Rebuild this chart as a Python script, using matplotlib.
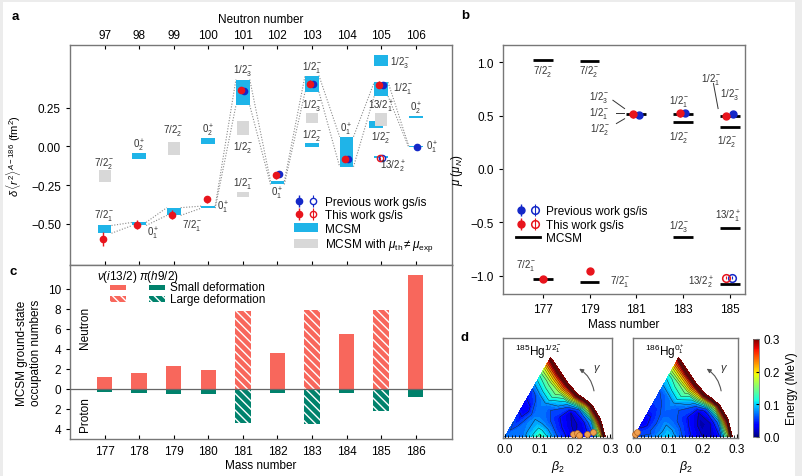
import numpy as np
import matplotlib
matplotlib.use("Agg")
import matplotlib.pyplot as plt
from matplotlib.patches import Rectangle, FancyArrowPatch
from matplotlib.legend_handler import HandlerTuple
from matplotlib.lines import Line2D

plt.rcParams['font.family'] = ['Liberation Sans', 'DejaVu Sans']
plt.rcParams['mathtext.fontset'] = 'custom'
plt.rcParams['mathtext.rm'] = 'Liberation Sans'
plt.rcParams['mathtext.it'] = 'Liberation Sans:italic'
plt.rcParams['mathtext.bf'] = 'Liberation Sans:bold'
plt.rcParams['font.size'] = 8
plt.rcParams['axes.edgecolor'] = '#777777'
plt.rcParams['axes.linewidth'] = 1.0
plt.rcParams['hatch.linewidth'] = 1.0

BLUE_BOX = '#1fb4e8'
GRAY_BOX = '#d8d8d8'
RED = '#e8141c'
DBLUE = '#1428c8'
SALMON = '#f8675c'
TEAL = '#00826c'

# ---------------- panel a : charge radii ----------------
neutrons = [97, 98, 99, 100, 101, 102, 103, 104, 105, 106]

# MCSM blue boxes: neutron number, lower, upper
mcsm_N = [97, 98, 98, 99, 100, 100, 101, 102, 103, 103, 104, 105, 105, 105, 105, 106, 106]
mcsm_lo = [-0.56, -0.08, -0.51, -0.445, 0.013, -0.398, 0.265, -0.245, 0.353, -0.002,
           -0.131, 0.518, 0.325, 0.120, -0.073, 0.187, -0.006]
mcsm_hi = [-0.51, -0.04, -0.49, -0.395, 0.052, -0.385, 0.432, -0.224, 0.458, 0.024,
           0.063, 0.592, 0.415, 0.163, -0.063, 0.195, 0.002]
mcsm_shift = [0, 0, 0, 0, 0, 0, 0, 0, 0, 0, 0, 0, 0, -0.15, 0, 0, 0]

# MCSM states with mu_th != mu_exp (gray)
gray_N = [97, 99, 101, 101, 103, 105]
gray_lo = [-0.23, -0.052, 0.077, -0.323, 0.153, 0.131]
gray_hi = [-0.153, 0.028, 0.163, -0.297, 0.217, 0.213]

# ground-state boxes joined by dotted lines (index into mcsm lists)
chain = [0, 2, 3, 5, 6, 7, 8, 10, 12, 16]

# experimental values
this_N = [97, 98, 99, 100, 101, 102, 103, 104, 105]
this_r = [-0.600, -0.505, -0.440, -0.342, 0.363, -0.187, 0.406, -0.084, 0.400]
this_err = [0.045, 0.030, 0.030, 0.020, 0.020, 0.020, 0.020, 0.015, 0.020]
prev_N = [101, 102, 103, 104, 105, 106]
prev_r = [0.360, -0.179, 0.405, -0.084, 0.395, -0.002]
prev_err = [0.015, 0.015, 0.015, 0.015, 0.015, 0.010]
iso_N = [105]
iso_this = [-0.077]
iso_prev = [-0.077]

a_labels = [
    (97, -0.103, r'7/2$_2^-$', 'center'), (97, -0.44, r'7/2$_1^-$', 'center'),
    (98, 0.013, r'0$_2^+$', 'center'), (98.42, -0.555, r'0$_1^+$', 'center'),
    (99, 0.11, r'7/2$_2^-$', 'center'), (99.53, -0.503, r'7/2$_1^-$', 'center'),
    (100, 0.11, r'0$_2^+$', 'center'), (100.43, -0.387, r'0$_1^+$', 'center'),
    (101, 0.497, r'1/2$_3^-$', 'center'), (101, 0.0, r'1/2$_2^-$', 'center'),
    (101, -0.232, r'1/2$_1^-$', 'center'), (102, -0.297, r'0$_1^+$', 'center'),
    (103, 0.516, r'1/2$_1^-$', 'center'), (103, 0.271, r'1/2$_3^-$', 'center'),
    (103, 0.077, r'1/2$_2^-$', 'center'), (104, 0.116, r'0$_1^+$', 'center'),
    (105.25, 0.548, r'1/2$_3^-$', 'left'), (105.35, 0.38, r'1/2$_1^-$', 'left'),
    (105, 0.265, r'13/2$_1^+$', 'center'), (105, 0.065, r'1/2$_2^-$', 'center'),
    (105.35, -0.123, r'13/2$_2^+$', 'center'), (106, 0.25, r'0$_2^+$', 'center'),
    (106.3, 0.0, r'0$_1^+$', 'left'),
]

# ---------------- panel b : magnetic moments ----------------
b_mcsm_A = [177, 177, 179, 179, 181, 183, 183, 183, 185, 185, 185, 185]
b_mcsm_mu = [1.015, -1.030, 1.010, -1.060, 0.510, 0.517, 0.437, -0.634, 0.500, 0.390, -0.553, -1.078]
b_this_A = [177, 179, 180.85, 182.85, 184.85]
b_this_mu = [-1.030, -0.953, 0.510, 0.520, 0.495]
b_prev_A = [181.1, 183.1, 185.15]
b_prev_mu = [0.505, 0.520, 0.510]
b_iso_this_A = [184.85]
b_iso_this_mu = [-1.016]
b_iso_prev_A = [185.1]
b_iso_prev_mu = [-1.016]
b_labels = [
    (177, 0.92, r'7/2$_2^-$', 'center'), (179, 0.92, r'7/2$_2^-$', 'center'),
    (176.3, -0.89, r'7/2$_1^-$', 'center'), (180.3, -1.045, r'7/2$_1^-$', 'center'),
    (179.4, 0.68, r'1/2$_3^-$', 'center'), (179.4, 0.53, r'1/2$_1^-$', 'center'),
    (179.45, 0.378, r'1/2$_2^-$', 'center'),
    (182.85, 0.643, r'1/2$_1^-$', 'center'), (182.85, 0.30, r'1/2$_2^-$', 'center'),
    (182.85, -0.528, r'1/2$_3^-$', 'center'),
    (184.2, 0.846, r'1/2$_1^-$', 'center'), (185.0, 0.706, r'1/2$_3^-$', 'center'),
    (184.9, 0.268, r'1/2$_2^-$', 'center'), (184.9, -0.435, r'13/2$_1^+$', 'center'),
    (183.75, -1.056, r'13/2$_2^+$', 'center'),
]
b_leaders = [((180.0, 0.643), (180.5, 0.565)), ((180.12, 0.525), (180.46, 0.525)),
             ((180.15, 0.425), (180.5, 0.47)), ((184.3, 0.80), (184.5, 0.565))]

# ---------------- panel c : occupation numbers ----------------
masses = [177, 178, 179, 180, 181, 182, 183, 184, 185, 186]
neutron_occ = [1.23, 1.57, 2.33, 1.90, 7.77, 3.57, 7.90, 5.50, 7.90, 11.43]
proton_occ = [0.33, 0.43, 0.50, 0.50, 3.43, 0.43, 3.50, 0.43, 2.17, 0.77]
large_def = [False, False, False, False, True, False, True, False, True, False]

# ---------------- panel d : energy surfaces (MeV) on a (beta, gamma) grid ----------------
pes_beta = [0.0, 0.05, 0.10, 0.15, 0.20, 0.225, 0.25, 0.275, 0.30]
pes_gamma = [0, 10, 20, 30, 40, 50, 60]
pes185 = [
    [0.07, 0.07, 0.13, 0.06, 0.020, 0.030, 0.050, 0.18, 0.55],
    [0.07, 0.07, 0.11, 0.05, 0.015, 0.030, 0.080, 0.32, 0.60],
    [0.07, 0.07, 0.09, 0.05, 0.020, 0.060, 0.200, 0.45, 0.60],
    [0.07, 0.07, 0.08, 0.06, 0.100, 0.220, 0.420, 0.55, 0.60],
    [0.07, 0.06, 0.06, 0.08, 0.160, 0.270, 0.440, 0.55, 0.60],
    [0.07, 0.05, 0.03, 0.07, 0.150, 0.240, 0.380, 0.55, 0.60],
    [0.07, 0.06, 0.03, 0.05, 0.120, 0.180, 0.270, 0.45, 0.60],
]
pes186 = [
    [0.06, 0.07, 0.10, 0.05, 0.020, 0.020, 0.040, 0.16, 0.55],
    [0.06, 0.06, 0.09, 0.05, 0.010, 0.020, 0.070, 0.30, 0.60],
    [0.06, 0.06, 0.08, 0.05, 0.020, 0.050, 0.180, 0.45, 0.60],
    [0.06, 0.05, 0.07, 0.06, 0.090, 0.200, 0.420, 0.55, 0.60],
    [0.06, 0.04, 0.06, 0.08, 0.150, 0.260, 0.440, 0.55, 0.60],
    [0.06, 0.03, 0.05, 0.07, 0.140, 0.230, 0.380, 0.55, 0.60],
    [0.06, 0.03, 0.05, 0.06, 0.110, 0.180, 0.270, 0.45, 0.60],
]
prob185_b = [0.195, 0.205, 0.212, 0.235, 0.25]
prob185_y = [0.008, 0.012, 0.006, 0.008, 0.014]
prob186_b = [0.004, 0.010]
prob186_y = [0.008, 0.014]

fig = plt.figure(figsize=(8.03, 4.77), dpi=100, facecolor='#ececec')
fig.patches.append(Rectangle((0.004, 0.0), 0.986, 0.993, transform=fig.transFigure,
                             facecolor='white', edgecolor='none', zorder=-10))

W, H = 803.0, 477.0


def box(l, t, r, b):
    return [l / W, 1 - b / H, (r - l) / W, (b - t) / H]


# ====== panel a ======
axa = fig.add_axes(box(70, 46, 452, 266))
bw, gw = 0.40, 0.35
for n, lo, hi, s in zip(mcsm_N, mcsm_lo, mcsm_hi, mcsm_shift):
    axa.add_patch(Rectangle((n - bw / 2 + s, lo), bw, hi - lo, facecolor=BLUE_BOX,
                            edgecolor='none', zorder=2))
for n, lo, hi in zip(gray_N, gray_lo, gray_hi):
    axa.add_patch(Rectangle((n - gw / 2, lo), gw, hi - lo, facecolor=GRAY_BOX,
                            edgecolor='none', zorder=3))
for i0, i1 in zip(chain[:-1], chain[1:]):
    n0, n1 = mcsm_N[i0], mcsm_N[i1]
    for y0, y1 in ((mcsm_lo[i0], mcsm_lo[i1]), (mcsm_hi[i0], mcsm_hi[i1])):
        axa.plot([n0 + bw / 2, n1 - bw / 2], [y0, y1], ls=(0, (1, 1.5)), color='#8a8a8a',
                 lw=0.8, zorder=1)
ebp = axa.errorbar(np.array(prev_N) + 0.04, prev_r, yerr=prev_err, fmt='o', color=DBLUE,
                   ms=4.5, elinewidth=1, capsize=0, zorder=5)
ebt = axa.errorbar(np.array(this_N) - 0.05, this_r, yerr=this_err, fmt='o', color=RED,
                   ms=4.5, elinewidth=1, capsize=0, zorder=6)
ebpo = axa.errorbar(np.array(iso_N) + 0.03, iso_prev, yerr=0.012, fmt='o', mfc='white',
                    mec=DBLUE, color=DBLUE, ms=4.5, elinewidth=0.8, capsize=0, zorder=5)
ebto = axa.errorbar(np.array(iso_N) - 0.04, iso_this, yerr=0.012, fmt='o', mfc='none',
                    mec=RED, color=RED, ms=4.5, elinewidth=0.8, capsize=0, zorder=6)
for x, y, t, ha in a_labels:
    axa.text(x, y, t, ha=ha, va='center', fontsize=7, color='#333333', zorder=7)

axa.set_xlim(96, 107.05)
axa.set_ylim(-0.765, 0.655)
axa.set_yticks([0.25, 0.0, -0.25, -0.5])
axa.set_yticklabels(['0.25', '0.00', '\u22120.25', '\u22120.50'])
axa.set_xticks(neutrons)
axa.xaxis.tick_top()
axa.xaxis.set_label_position('top')
axa.tick_params(axis='x', which='both', top=True, bottom=True, labeltop=True,
                labelbottom=False, direction='in', length=3, pad=3, labelsize=8.5)
axa.tick_params(axis='y', direction='out', length=3, labelsize=8.5)
axa.set_xlabel('Neutron number', fontsize=8.5, labelpad=5)
axa.set_ylabel(r'$\delta\,\langle r^2\rangle^{A-186}$ (fm$^2$)', fontsize=8, labelpad=6)

blue_rect = Rectangle((0, 0), 1, 1, facecolor=BLUE_BOX, edgecolor='none')
gray_rect = Rectangle((0, 0), 1, 1, facecolor=GRAY_BOX, edgecolor='none')
axa.legend([(ebp, ebpo), (ebt, ebto), blue_rect, gray_rect],
           ['Previous work gs/is', 'This work gs/is', 'MCSM',
            r'MCSM with $\mu_{\rm th}\neq\mu_{\rm exp}$'],
           handler_map={tuple: HandlerTuple(ndivide=None, pad=0.3)},
           loc='upper left', bbox_to_anchor=(0.575, 0.335), frameon=False, fontsize=8.5,
           handlelength=2.0, handleheight=0.8, labelspacing=0.12, handletextpad=0.6,
           borderaxespad=0)

# ====== panel b ======
axb = fig.add_axes(box(503, 46, 745, 295))
for A, mu in zip(b_mcsm_A, b_mcsm_mu):
    axb.plot([A - 0.42, A + 0.42], [mu, mu], color='black', lw=2.0, zorder=2,
             solid_capstyle='butt')
pb = axb.errorbar(b_prev_A, b_prev_mu, yerr=0.02, fmt='o', color=DBLUE, ms=5,
                  elinewidth=1, capsize=0, zorder=4)
tb = axb.errorbar(b_this_A, b_this_mu, yerr=0.03, fmt='o', color=RED, ms=5,
                  elinewidth=1, capsize=0, zorder=5)
pbo = axb.errorbar(b_iso_prev_A, b_iso_prev_mu, yerr=0.01, fmt='o', mfc='none', mec=DBLUE,
                   color=DBLUE, ms=5.5, mew=1.1, elinewidth=0.8, capsize=0, zorder=4)
tbo = axb.errorbar(b_iso_this_A, b_iso_this_mu, yerr=0.01, fmt='o', mfc='none', mec=RED,
                   color=RED, ms=5.5, mew=1.1, elinewidth=0.8, capsize=0, zorder=5)
for x, y, t, ha in b_labels:
    axb.text(x, y, t, ha=ha, va='center', fontsize=7, color='#333333')
for (x0, y0), (x1, y1) in b_leaders:
    axb.plot([x0, x1], [y0, y1], color='#333333', lw=0.7)
axb.set_xlim(175.3, 185.65)
axb.set_ylim(-1.17, 1.16)
axb.set_xticks([177, 179, 181, 183, 185])
axb.set_yticks([1.0, 0.5, 0.0, -0.5, -1.0])
axb.set_yticklabels(['1.0', '0.5', '0.0', '\u22120.5', '\u22121.0'])
axb.tick_params(direction='out', length=3, labelsize=8.5)
axb.set_xlabel('Mass number', fontsize=8.5, labelpad=2)
axb.set_ylabel(r'$\mu$ ($\mu_{N}$)', fontsize=8.5, labelpad=4)
mline = Line2D([], [], color='black', lw=2.0)
axb.legend([(pb, pbo), (tb, tbo), mline],
           ['Previous work gs/is', 'This work gs/is', 'MCSM'],
           handler_map={tuple: HandlerTuple(ndivide=None, pad=0.3)},
           loc='upper left', bbox_to_anchor=(0.035, 0.375), frameon=False, fontsize=8.5,
           handlelength=2.0, labelspacing=0.12, handletextpad=0.5, borderaxespad=0)

# ====== panel c ======
axc = fig.add_axes(box(70, 266, 452, 440))
HATCH = '\\\\\\\\'
for A, nv, pv, big in zip(masses, neutron_occ, proton_occ, large_def):
    h = HATCH if big else None
    axc.bar(A, nv, width=0.45, color=SALMON, edgecolor='white' if big else SALMON,
            lw=0, hatch=h, zorder=2)
    axc.bar(A, -pv, width=0.45, color=TEAL, edgecolor='white' if big else TEAL,
            lw=0, hatch=h, zorder=2)
axc.axhline(0, color='#666666', lw=0.9, zorder=3)
axc.set_xlim(176, 187.05)
axc.set_ylim(-5, 12.4)
axc.set_xticks(masses)
axc.set_yticks([10, 8, 6, 4, 2, 0, -2, -4])
axc.set_yticklabels(['10', '8', '6', '4', '2', '0', '2', '4'])
axc.tick_params(axis='x', direction='in', length=3, labelsize=8.5, pad=4)
axc.tick_params(axis='y', direction='out', length=3, labelsize=8.5)
axc.set_xlabel('Mass number', fontsize=8.5, labelpad=2)
axc.set_ylabel('MCSM ground-state\noccupation numbers', fontsize=8.5, labelpad=4)
axc.text(0.04, 0.645, 'Neutron', rotation=90, ha='center', va='center',
         transform=axc.transAxes, fontsize=8.5)
axc.text(0.04, 0.145, 'Proton', rotation=90, ha='center', va='center',
         transform=axc.transAxes, fontsize=8.5)
axc.text(0.124, 0.935, r'$\nu$($i$13/2)', ha='center', va='center', transform=axc.transAxes,
         fontsize=8.5)
axc.text(0.232, 0.935, r'$\pi$($h$9/2)', ha='center', va='center', transform=axc.transAxes,
         fontsize=8.5)
for (x0, y0, c, hh) in [(0.105, 0.855, SALMON, None), (0.207, 0.855, TEAL, None),
                        (0.105, 0.79, SALMON, HATCH), (0.207, 0.79, TEAL, HATCH)]:
    axc.add_patch(Rectangle((x0, y0), 0.042, 0.032, transform=axc.transAxes,
                            facecolor=c, edgecolor='white' if hh else c, lw=0, hatch=hh))
axc.text(0.262, 0.871, 'Small deformation', ha='left', va='center', transform=axc.transAxes,
         fontsize=8.5)
axc.text(0.262, 0.806, 'Large deformation', ha='left', va='center', transform=axc.transAxes,
         fontsize=8.5)

# ====== panel d ======
cmap = plt.get_cmap('jet')
norm = matplotlib.colors.Normalize(vmin=0.0, vmax=0.3)
E_CUT = 0.345
fill_levels = np.arange(0.0, E_CUT + 1e-9, 0.0075)
line_levels = np.arange(0.02, 0.321, 0.02)


def energy_surface(ax, table, title, pb_x, pb_y):
    bb, gg = np.meshgrid(pes_beta, np.radians(pes_gamma))
    X = bb * np.cos(gg)
    Y = bb * np.sin(gg)
    Z = np.array(table)
    ax.contourf(X, Y, Z, levels=fill_levels, cmap=cmap, norm=norm)
    ax.contour(X, Y, Z, levels=line_levels, colors='#1a1a1a', linewidths=0.3)
    ax.scatter(pb_x, pb_y, s=18, color='#f0a050', edgecolor='#b06020', lw=0.5, zorder=5,
               clip_on=False)
    ax.set_xlim(-0.005, 0.305)
    ax.set_ylim(-0.003, 0.281)
    ax.set_xticks([0.0, 0.1, 0.2, 0.3])
    ax.set_xticklabels(['0.0', '0.1', '0.2', '0.3'])
    ax.set_xticks(np.arange(0.0, 0.301, 0.01), minor=True)
    ax.set_yticks([])
    ax.tick_params(axis='x', which='both', direction='in', length=3, labelsize=8.5)
    ax.tick_params(axis='x', which='minor', length=2)
    ax.set_xlabel(r'$\beta_2$', fontsize=9, labelpad=2)
    ax.text(0.11, 0.87, title, transform=ax.transAxes, fontsize=8.5, ha='left', va='center')
    ax.add_patch(FancyArrowPatch((0.255, 0.123), (0.205, 0.198),
                                 connectionstyle='arc3,rad=0.25', arrowstyle='-|>',
                                 mutation_scale=6, color='#555555', lw=0.8))
    ax.text(0.25, 0.19, r'$\gamma$', fontsize=8, color='#333333')


axd1 = fig.add_axes(box(503, 339, 612, 439))
energy_surface(axd1, pes185, r'$^{185}$Hg$^{1/2_1^-}$', prob185_b, prob185_y)
axd2 = fig.add_axes(box(633, 339, 738, 439))
energy_surface(axd2, pes186, r'$^{186}$Hg$^{0_1^+}$', prob186_b, prob186_y)
axd2.set_xlim(-0.003, 0.303)

cax = fig.add_axes(box(753, 340, 759, 438))
sm = matplotlib.cm.ScalarMappable(norm=norm, cmap=cmap)
cb = fig.colorbar(sm, cax=cax, ticks=[0.0, 0.1, 0.2, 0.3])
cb.ax.set_yticklabels(['0.0', '0.1', '0.2', '0.3'])
cb.ax.tick_params(labelsize=8.5, length=2, direction='in')
cb.set_label('Energy (MeV)', fontsize=8.5, labelpad=4)
cb.outline.set_linewidth(0.6)

# panel letters
for x, y, s in [(15, 17, 'a'), (465, 16, 'b'), (13, 272, 'c'), (465, 338, 'd')]:
    fig.text(x / W, 1 - y / H, s, fontsize=9.5, fontweight='bold', ha='center', va='center')

fig.savefig('out.png', dpi=100, facecolor=fig.get_facecolor())
